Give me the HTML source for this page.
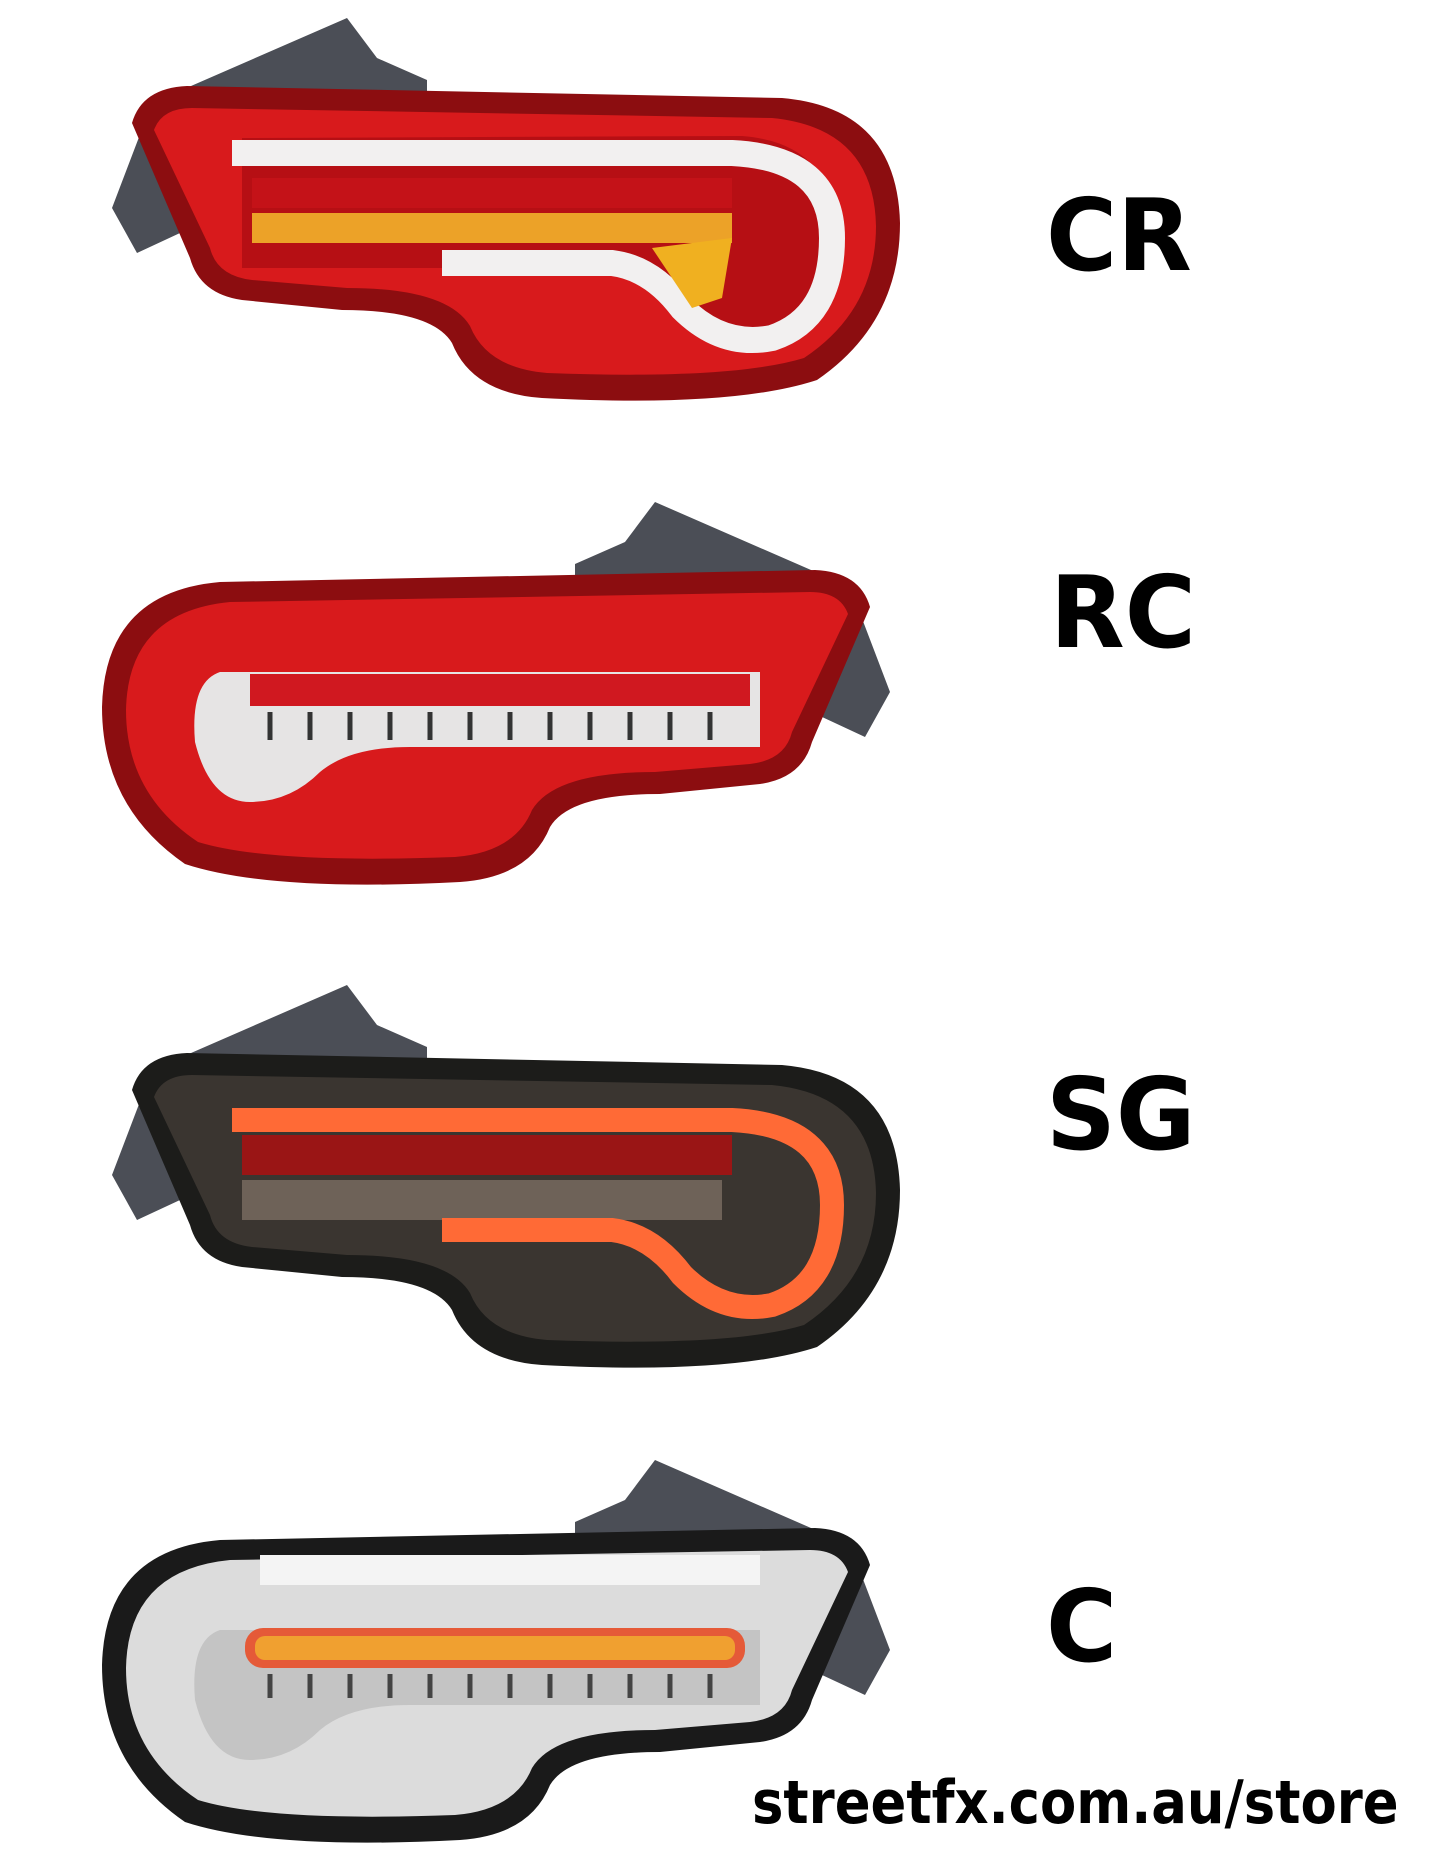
<!DOCTYPE html>
<html><head><meta charset="utf-8"><style>
html,body{margin:0;padding:0;background:#fff;}
body{width:1440px;height:1852px;position:relative;overflow:hidden;}
.lab{position:absolute;font-family:"DejaVu Sans","Liberation Sans",sans-serif;font-weight:bold;color:#000;font-size:100px;line-height:1;transform:scaleX(0.97);transform-origin:left top;}
.url{position:absolute;left:752px;top:1768px;font-family:"DejaVu Sans","Liberation Sans",sans-serif;font-weight:bold;font-size:60px;color:#000;transform:scaleX(0.88);transform-origin:left top;white-space:nowrap;}
svg{position:absolute;left:0;top:0;}
</style></head><body>
<svg width="1440" height="1852" viewBox="0 0 1440 1852">
<defs>
<path id="br" d="M20,190 L60,85 L255,0 L285,40 L335,62 L335,100 L45,235 Z"/>
<path id="bo" d="M40,105 Q50,70 95,68 L690,80 Q805,90 808,205 Q808,305 725,362 Q640,390 450,380 Q380,375 360,325 Q340,292 250,292 L150,282 Q108,276 98,240 Z"/>
<path id="bi" d="M62,112 Q70,90 100,90 L680,100 Q782,110 784,208 Q784,292 712,340 Q640,362 455,355 Q395,350 378,308 Q355,270 255,270 L160,262 Q125,258 118,230 Z"/>
<path id="bar" d="M140,135 L640,135 Q740,140 740,220 Q740,300 680,320 Q630,330 590,290 Q560,250 520,245 L350,245" fill="none"/>
<path id="in2" d="M150,170 L690,170 Q720,180 715,240 Q700,300 660,300 Q620,300 590,270 Q560,245 500,245 L150,245 Z"/>
</defs>
<!-- CR -->
<g transform="translate(92,18)">
<use href="#br" fill="#4b4e56"/>
<use href="#bo" fill="#8c0d10"/>
<use href="#bi" fill="#d81a1c"/>
<path d="M150,120 L650,118 Q740,125 742,210 Q742,300 680,320 Q620,330 580,280 Q560,250 520,245 L380,245 L380,250 L150,250 Z" fill="#b60f14"/>
<use href="#bar" stroke="#f2f0f0" stroke-width="26"/>
<rect x="160" y="160" width="480" height="30" fill="#c41218"/>
<rect x="160" y="195" width="480" height="30" fill="#f2b22a" opacity="0.9"/>
<path d="M560,230 L640,220 L630,280 L600,290 Z" fill="#f0b020"/>
</g>
<!-- RC -->
<g transform="translate(910,502) scale(-1,1)">
<use href="#br" fill="#4b4e56"/>
<use href="#bo" fill="#8c0d10"/>
<use href="#bi" fill="#d81a1c"/>
<use href="#in2" fill="#e6e4e4"/>
<rect x="160" y="172" width="500" height="32" fill="#d01820"/>
<g stroke="#333" stroke-width="5">
<path d="M200,210v28M240,210v28M280,210v28M320,210v28M360,210v28M400,210v28M440,210v28M480,210v28M520,210v28M560,210v28M600,210v28M640,210v28"/>
</g>
</g>
<!-- SG -->
<g transform="translate(92,985)">
<use href="#br" fill="#4b4e56"/>
<use href="#bo" fill="#1c1c1a"/>
<use href="#bi" fill="#3a3530"/>
<rect x="150" y="150" width="490" height="40" fill="#9a1515"/>
<rect x="150" y="195" width="480" height="40" fill="#6e6258"/>
<use href="#bar" stroke="#ff6a36" stroke-width="24"/>
</g>
<!-- C -->
<g transform="translate(910,1460) scale(-1,1)">
<use href="#br" fill="#4b4e56"/>
<use href="#bo" fill="#1a1a1a"/>
<use href="#bi" fill="#dcdcdc"/>
<use href="#in2" fill="#c4c4c4"/>
<rect x="165" y="168" width="500" height="40" rx="18" fill="#e55a38"/>
<rect x="175" y="176" width="480" height="24" rx="10" fill="#f0a030"/>
<g stroke="#444" stroke-width="5">
<path d="M200,214v24M240,214v24M280,214v24M320,214v24M360,214v24M400,214v24M440,214v24M480,214v24M520,214v24M560,214v24M600,214v24M640,214v24"/>
</g>
<rect x="150" y="95" width="500" height="30" fill="#f4f4f4"/>
</g>
</svg>
<div class="lab" style="left:1046px;top:186px;">CR</div>
<div class="lab" style="left:1050px;top:563px;">RC</div>
<div class="lab" style="left:1046px;top:1065px;">SG</div>
<div class="lab" style="left:1046px;top:1577px;">C</div>
<div class="url">streetfx.com.au/store</div>
</body></html>
